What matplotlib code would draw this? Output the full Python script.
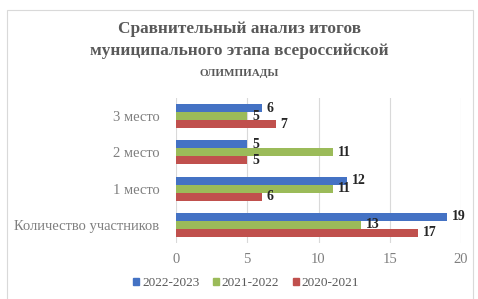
import matplotlib.pyplot as plt
from matplotlib.patches import Rectangle
import numpy as np

plt.rcParams['font.family'] = ['Liberation Serif', 'DejaVu Serif']

# data
categories = ['Количество участников', '1 место', '2 место', '3 место']
series = ['2022-2023', '2021-2022', '2020-2021']
v_2022 = [19, 12, 5, 6]
v_2021 = [13, 11, 11, 5]
v_2020 = [17, 6, 5, 7]
colors = ['#4472C4', '#9BBB59', '#C0504D']

fig = plt.figure(figsize=(4.78, 2.99), dpi=100)
fig.patch.set_facecolor('white')

# chart frame
fig.patches.append(Rectangle((7/478, -0.01), 466/478, 1 - 10/299 + 0.01,
                             transform=fig.transFigure, fill=False,
                             edgecolor='#d9d9d9', linewidth=0.8))

# title
fig.text(0.5, 1 - 29/299, 'Сравнительный анализ итогов', ha='center', va='center',
         fontsize=12.4, color='#595959', fontweight='bold')
fig.text(0.5, 1 - 51/299, 'муниципального этапа всероссийской', ha='center', va='center',
         fontsize=12.4, color='#595959', fontweight='bold')
fig.text(0.5, 1 - 73/299, 'ОЛИМПИАДЫ', ha='center', va='center',
         fontsize=8, color='#595959', fontweight='bold')

ax = fig.add_axes([176/478, 1 - 243/299, 285/478, 145/299])
y = np.arange(len(categories))
h = 0.22
for vals, off, col in zip([v_2022, v_2021, v_2020], [h, 0, -h], colors):
    bars = ax.barh(y + off, vals, height=h, color=col)
    for b, v in zip(bars, vals):
        ax.text(b.get_width() + 0.35, b.get_y() + h / 2, str(v), ha='left', va='center',
                fontsize=10, fontweight='bold', color='#262626')

ax.set_xlim(0, 20)
ax.set_ylim(-0.5, 3.5)
ax.set_xticks([0, 5, 10, 15, 20])
ax.set_yticks(y)
ax.set_yticklabels(categories)
ax.tick_params(axis='both', length=0, labelsize=10.5, colors='#7f7f7f')
ax.tick_params(axis='x', pad=7)
ax.tick_params(axis='y', pad=12)
ax.grid(axis='x', color='#d9d9d9', linewidth=0.8)
ax.set_axisbelow(True)
for s in ax.spines.values():
    s.set_visible(False)

handles = [Rectangle((0, 0), 1, 1, color=c) for c in colors]
fig.legend(handles, series, loc='center', bbox_to_anchor=(0.515, 1 - 283/299), ncol=3,
           frameon=False, fontsize=9.5, handlelength=0.45, handleheight=0.45,
           columnspacing=1.0, handletextpad=0.25, labelcolor='#595959')

plt.savefig('out.png', dpi=100, facecolor='white')
